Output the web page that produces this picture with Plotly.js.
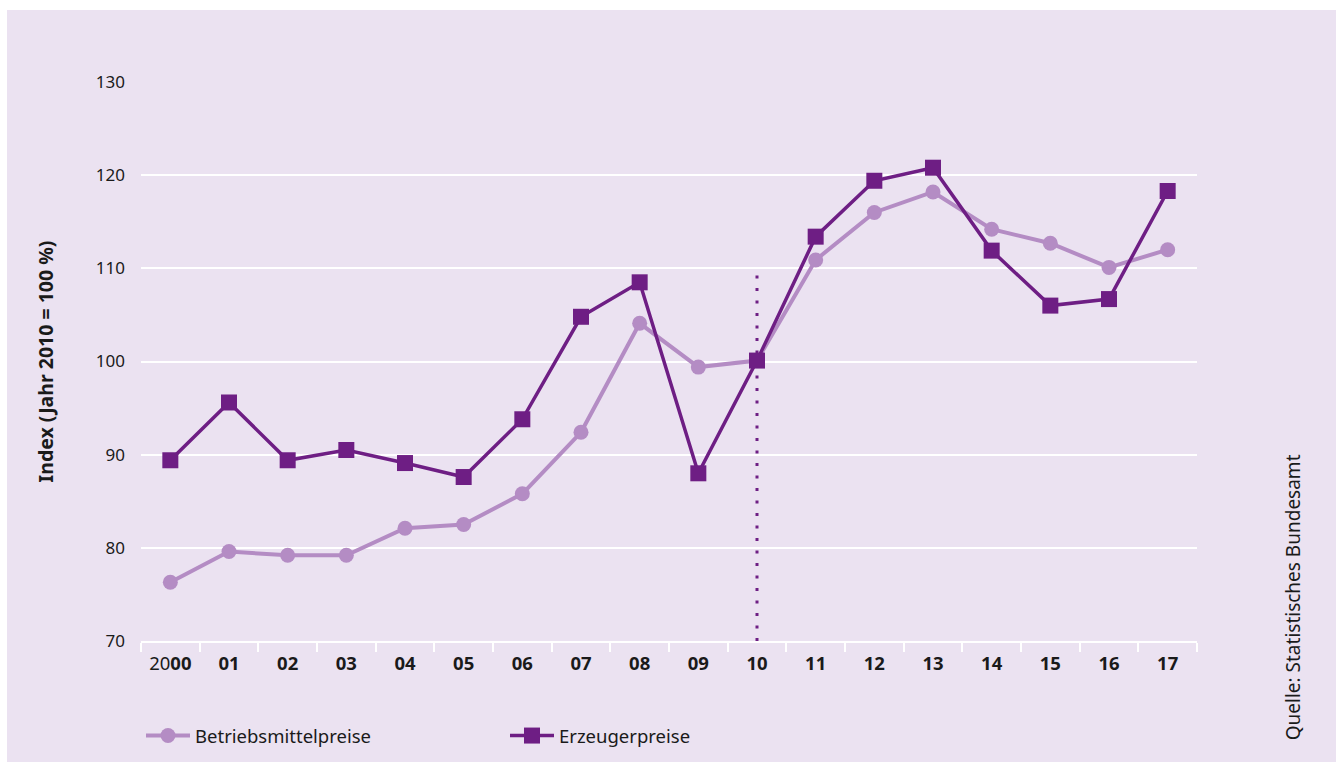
<!DOCTYPE html>
<html><head><meta charset="utf-8">
<script src="https://cdn.plot.ly/plotly-3.0.1.min.js"></script>
<style>
html,body{margin:0;padding:0;background:#ffffff;}
#chart{position:absolute;left:7px;top:10px;width:1329px;height:752px;}
</style></head>
<body><div id="chart"></div>
<script>
const categories = ['2000','01','02','03','04','05','06','07','08','09','10','11','12','13','14','15','16','17'];
const tickLabels = ['20<b>00</b>','<b>01</b>','<b>02</b>','<b>03</b>','<b>04</b>','<b>05</b>','<b>06</b>','<b>07</b>','<b>08</b>','<b>09</b>','<b>10</b>','<b>11</b>','<b>12</b>','<b>13</b>','<b>14</b>','<b>15</b>','<b>16</b>','<b>17</b>'];
const betriebsmittelpreise = [76.3, 79.6, 79.2, 79.2, 82.1, 82.5, 85.8, 92.4, 104.1, 99.4, 100.1, 110.9, 116.0, 118.2, 114.2, 112.7, 110.1, 112.0];
const erzeugerpreise = [89.4, 95.6, 89.4, 90.5, 89.1, 87.6, 93.8, 104.8, 108.5, 88.0, 100.1, 113.4, 119.4, 120.8, 111.9, 106.0, 106.7, 118.3];
const seriesNames = ['Betriebsmittelpreise', 'Erzeugerpreise'];
const yTitle = 'Index (Jahr 2010 = 100 %)';
const sourceText = 'Quelle: Statistisches Bundesamt';
const baseYear = '10';

const light = '#b48cc4';
const dark = '#6e1e84';
const bg = '#ebe2f1';
const font = 'Noto Sans, Open Sans, sans-serif';
const txt = '#1a1a1a';

const traces = [
  {x: categories, y: betriebsmittelpreise, name: seriesNames[0], type: 'scatter', mode: 'lines+markers',
   line: {color: light, width: 4}, marker: {symbol: 'circle', size: 15, color: light}},
  {x: categories, y: erzeugerpreise, name: seriesNames[1], type: 'scatter', mode: 'lines+markers',
   line: {color: dark, width: 3.5}, marker: {symbol: 'square', size: 16, color: dark}}
];

const layout = {
  width: 1329, height: 752,
  paper_bgcolor: bg, plot_bgcolor: bg,
  margin: {l: 134, r: 139, t: 72, b: 121, autoexpand: false},
  font: {family: font, size: 16, color: txt},
  showlegend: true,
  legend: {orientation: 'h', x: 0, xanchor: 'left', y: -0.17, yanchor: 'middle',
           entrywidth: 305, entrywidthmode: 'pixels', itemwidth: 44,
           font: {family: font, size: 18.5, color: txt}, bgcolor: 'rgba(0,0,0,0)'},
  xaxis: {type: 'category', range: [-0.5, 17.5], tickvals: categories, ticktext: tickLabels,
          showgrid: false, zeroline: false, showline: true, linecolor: '#ffffff', linewidth: 2,
          ticks: 'outside', tickson: 'boundaries', ticklen: 9, tickwidth: 2, tickcolor: '#ffffff',
          ticklabelstandoff: 5, automargin: false,
          tickfont: {family: font, size: 18.5, color: txt}, fixedrange: true},
  yaxis: {range: [70, 130], tickvals: [70, 80, 90, 100, 110, 120, 130], showgrid: true,
          gridcolor: '#ffffff', gridwidth: 2, zeroline: false, showline: false, ticks: '',
          ticklabelstandoff: 15, automargin: false,
          tickfont: {family: font, size: 17, color: txt},
          title: {text: '<b>' + yTitle + '</b>', standoff: 36, font: {family: font, size: 19.5, color: txt}},
          fixedrange: true},
  shapes: [{type: 'line', xref: 'x', yref: 'y', x0: baseYear, x1: baseYear, y0: 70, y1: 110,
            line: {color: dark, width: 3, dash: '3px,9.5px'}, layer: 'below'}],
  annotations: [{text: sourceText, xref: 'paper', yref: 'paper', x: 1.091, y: -0.181,
                 xanchor: 'center', yanchor: 'bottom', textangle: -90, showarrow: false,
                 font: {family: font, size: 19, color: txt}}]
};

Plotly.newPlot('chart', traces, layout, {displayModeBar: false, staticPlot: true});
</script></body></html>
